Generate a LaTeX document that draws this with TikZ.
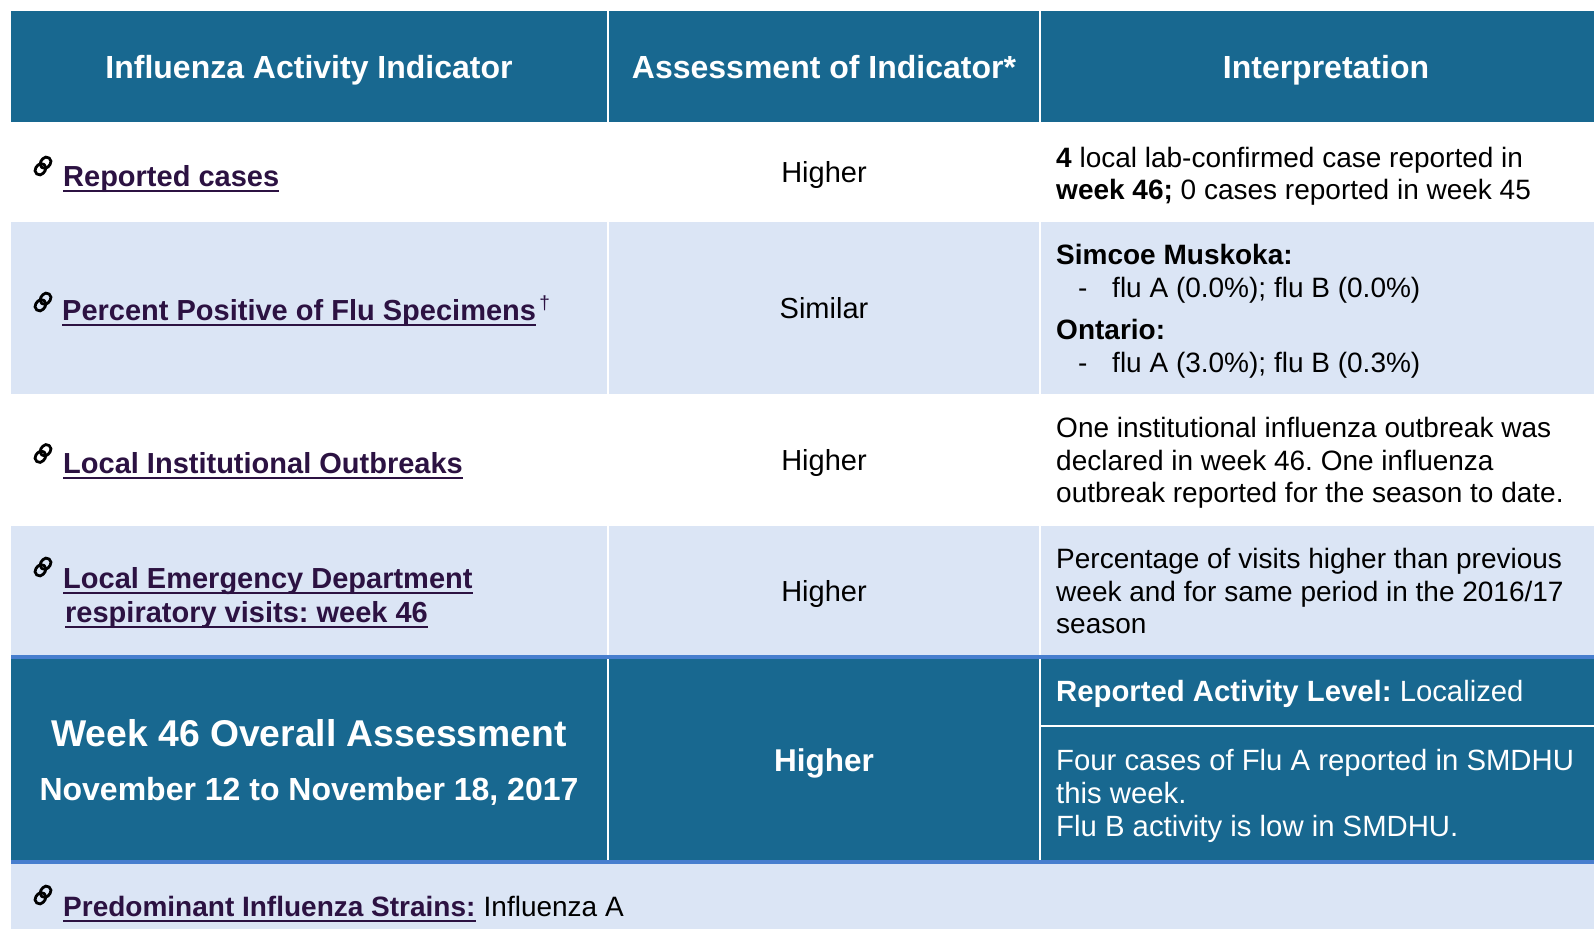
\documentclass[tikz,border=0pt]{standalone}
\usepackage{fontspec}
\setmainfont{Liberation Sans}
\frenchspacing
\definecolor{hdrblue}{RGB}{24,104,144}
\definecolor{lightrow}{RGB}{219,229,245}
\definecolor{lineblue}{RGB}{71,126,206}
\definecolor{linkc}{RGB}{44,18,66}
\tikzset{
  hd/.style={anchor=base, inner sep=0, text=white, font=\fontsize{32}{38}\selectfont\bfseries},
  bd/.style={anchor=base west, inner sep=0, font=\fontsize{29}{33}\selectfont},
  it/.style={anchor=base west, inner sep=0, font=\fontsize{28}{33}\selectfont},
  wt/.style={anchor=base west, inner sep=0, text=white, font=\fontsize{29.3}{33}\selectfont},
  ct/.style={bd, anchor=base},
  lk/.style={bd, text=linkc, font=\fontsize{29}{33}\selectfont\bfseries},
  ul/.style={draw=linkc, line width=2.7pt},
  chainicon/.pic={
    \begin{scope}[rotate=52, line width=2.8pt]
      \draw[rounded corners=4.4pt] (-10,-4.6) rectangle (1.8,4.6);
      \draw[rounded corners=4.4pt] (-1.8,-4.6) rectangle (10,4.6);
    \end{scope}
  }
}
\begin{document}
\begin{tikzpicture}[x=1pt,y=-1pt]
\useasboundingbox (0,0) rectangle (1594,929);
\fill[white] (0,0) rectangle (1594,929);
% header
\fill[hdrblue] (11,11) rectangle (607,122);
\fill[hdrblue] (609,11) rectangle (1039,122);
\fill[hdrblue] (1041,11) rectangle (1594,122);
% row 2
\fill[lightrow] (11,222) rectangle (607,394);
\fill[lightrow] (609,222) rectangle (1039,394);
\fill[lightrow] (1041,222) rectangle (1594,394);
% row 4
\fill[lightrow] (11,526) rectangle (607,655);
\fill[lightrow] (609,526) rectangle (1039,655);
\fill[lightrow] (1041,526) rectangle (1594,655);
% overall
\fill[lineblue] (11,655) rectangle (1594,659);
\fill[hdrblue] (11,659) rectangle (607,860);
\fill[hdrblue] (609,659) rectangle (1039,860);
\fill[hdrblue] (1041,659) rectangle (1594,725);
\fill[hdrblue] (1041,727) rectangle (1594,860);
\fill[lineblue] (11,860) rectangle (1594,864);
% bottom
\fill[lightrow] (11,864) rectangle (1594,929);

% header texts
\node[hd] (h1) at (309,78.5) {Influenza Activity Indicator};
\node[hd] (h2) at (824,78.5) {Assessment of Indicator*};
\node[hd] (h3) at (1326,78.5) {Interpretation};

% row 1
\pic at (43,166) {chainicon};
\node[lk] (l1) at (63,186) {Reported cases};
\draw[ul] ([yshift=-5pt]l1.base west) -- ([yshift=-5pt]l1.base east);
\node[ct] (a1) at (824,182) {Higher};
\node[it] (i1a) at (1056,167) {\textbf{4} local lab-confirmed case reported in};
\node[it] (i1b) at (1056,199) {\textbf{week 46;} 0 cases reported in week 45};

% row 2
\pic at (43,302) {chainicon};
\node[lk] (l2) at (62,320) {Percent Positive of Flu Specimens};
\draw[ul] ([yshift=-5pt]l2.base west) -- ([yshift=-5pt]l2.base east);
\node[anchor=base west, inner sep=0, text=linkc, font=\fontsize{19}{20}\selectfont] (dg) at ([xshift=3pt,yshift=11pt]l2.base east) {†};
\node[ct] (a2) at (824,318) {Similar};
\node[it] (i2a) at (1056,264) {\textbf{Simcoe Muskoka:}};
\node[it] (i2b) at (1078,297) {-};
\node[it] (i2c) at (1112,297) {flu A (0.0\%); flu B (0.0\%)};
\node[it] (i2d) at (1056,339) {\textbf{Ontario:}};
\node[it] (i2e) at (1078,372) {-};
\node[it] (i2f) at (1112,372) {flu A (3.0\%); flu B (0.3\%)};

% row 3
\pic at (43,453.5) {chainicon};
\node[lk] (l3) at (63,473) {Local Institutional Outbreaks};
\draw[ul] ([yshift=-5pt]l3.base west) -- ([yshift=-5pt]l3.base east);
\node[ct] (a3) at (824,470) {Higher};
\node[it] (i3a) at (1056,437) {One institutional influenza outbreak was};
\node[it] (i3b) at (1056,470) {declared in week 46. One influenza};
\node[it] (i3c) at (1056,502) {outbreak reported for the season to date.};

% row 4
\pic at (43,567) {chainicon};
\node[lk] (l4a) at (63,588) {Local Emergency Department};
\draw[ul] ([yshift=-5pt]l4a.base west) -- ([yshift=-5pt]l4a.base east);
\node[lk] (l4b) at (65,622) {respiratory visits: week 46};
\draw[ul] ([yshift=-5pt]l4b.base west) -- ([yshift=-5pt]l4b.base east);
\node[ct] (a4) at (824,601) {Higher};
\node[it] (i4a) at (1056,568) {Percentage of visits higher than previous};
\node[it] (i4b) at (1056,601) {week and for same period in the 2016/17};
\node[it] (i4c) at (1056,633) {season};

% overall
\node[hd, font=\fontsize{37.3}{44}\selectfont\bfseries] (o1) at (309,746) {Week 46 Overall Assessment};
\node[hd] (o2) at (309,800.5) {November 12 to November 18, 2017};
\node[hd, font=\fontsize{31.5}{38}\selectfont\bfseries] (oh) at (824,771) {Higher};
\node[wt] (r1) at (1056,701.5) {\textbf{Reported Activity Level:} Localized};
\node[wt] (r2a) at (1056,770) {Four cases of Flu A reported in SMDHU};
\node[wt] (r2b) at (1056,803) {this week.};
\node[wt] (r2c) at (1056,836) {Flu B activity is low in SMDHU.};

% bottom
\pic at (43,895) {chainicon};
\node[lk, font=\fontsize{28}{33}\selectfont\bfseries] (l5) at (63,916) {Predominant Influenza Strains:};
\draw[ul] ([yshift=-5pt]l5.base west) -- ([yshift=-5pt]l5.base east);
\node[it] (l5b) at ([xshift=7.8pt]l5.base east) {Influenza A};
\end{tikzpicture}
\end{document}
